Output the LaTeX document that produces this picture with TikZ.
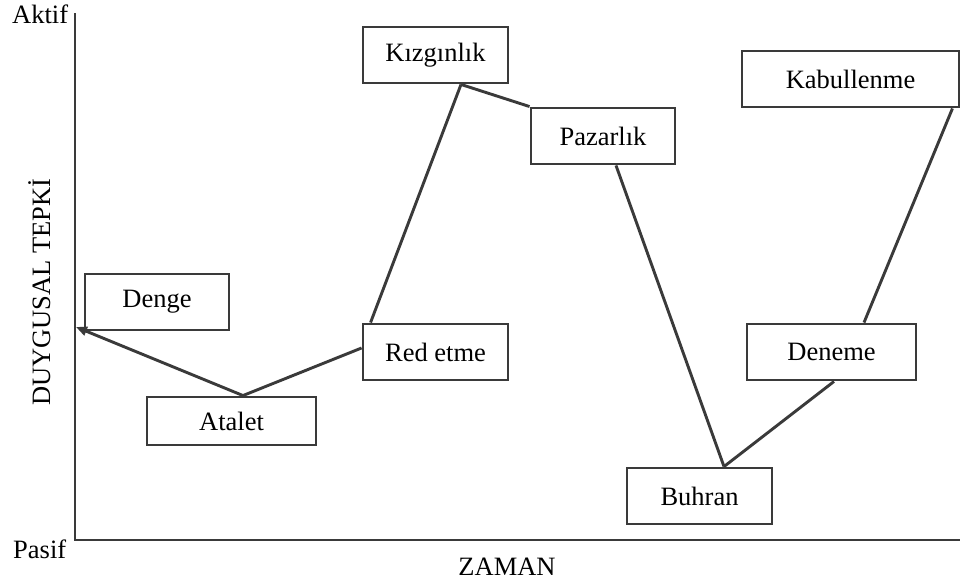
\documentclass[tikz,border=0pt]{standalone}
\usepackage{fontspec}
\setmainfont{Liberation Serif}
\usetikzlibrary{arrows.meta}
\definecolor{linegray}{HTML}{3A3A3A}
\begin{document}
\begin{tikzpicture}[x=1pt,y=-1pt,
  every node/.style={font=\fontsize{26.5}{30}\selectfont, text=black},
  stage/.style={draw=linegray, line width=2.9pt, fill=white, inner sep=0pt,
    minimum height=56pt, align=center},
  link/.style={draw=linegray, line width=2.9pt},
  axis/.style={draw=linegray, line width=2.9pt}]
\useasboundingbox (0,0) rectangle (960,584);

% axes
\coordinate (ytop) at (75,13);
\coordinate (origin) at (75,540);
\coordinate (xend) at (960,540);
\coordinate (eq) at (76,327);
\draw[axis] (ytop) -- (origin) -- (xend);

% axis labels
\node[anchor=base west, inner sep=0pt] (aktif) at (12,23) {Aktif};
\node[anchor=base west, inner sep=0pt] (pasif) at (13,558) {Pasif};
\node[anchor=base, inner sep=0pt] (zaman) at (507,575) {ZAMAN};
\node[anchor=base, inner sep=0pt, rotate=90] (tepki) at (50,292) {DUYGUSAL TEPKİ};

% stages
\node[stage, minimum width=144pt] (denge) at (157,302) {Denge};
\node[stage, minimum width=169pt, minimum height=48pt] (atalet) at (231.5,421) {Atalet};
\node[stage, minimum width=145pt] (red) at (435.5,352) {Red etme};
\node[stage, minimum width=145pt] (kiz) at (435.5,55) {Kızgınlık};
\node[stage, minimum width=144pt] (paz) at (603,136) {Pazarlık};
\node[stage, minimum width=145pt] (buh) at (699.5,496) {Buhran};
\node[stage, minimum width=169pt] (den) at (831.5,352) {Deneme};
\node[stage, minimum width=217pt] (kab) at (850.5,79) {Kabullenme};

% connectors
\draw[link, -{Triangle[length=11pt,width=9pt]}] ([xshift=11.5pt]atalet.north) -- (eq);
\draw[link] ([xshift=11.5pt]atalet.north) -- ([yshift=4pt]red.west);
\draw[link] ([xshift=9pt]red.north west) -- ([xshift=25.5pt]kiz.south);
\draw[link] ([xshift=25.5pt]kiz.south) -- (paz.north west);
\draw[link] ([xshift=13pt]paz.south) -- ([xshift=24.5pt]buh.north);
\draw[link] ([xshift=24.5pt]buh.north) -- ([xshift=2.5pt]den.south);
\draw[link] ([xshift=32.5pt]den.north) -- ([xshift=-8pt]kab.south east);
\end{tikzpicture}
\end{document}
